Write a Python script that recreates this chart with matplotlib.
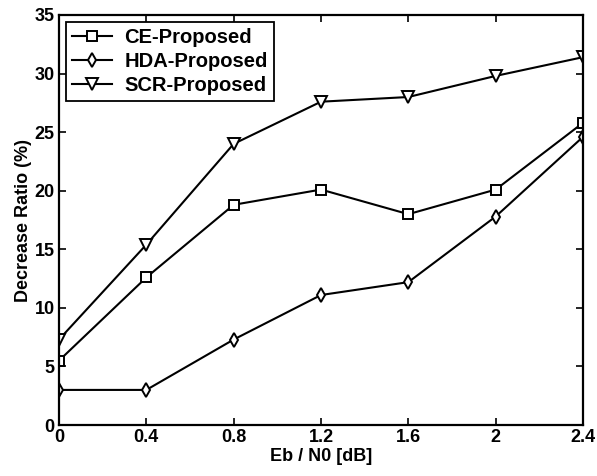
import matplotlib
matplotlib.use("Agg")
import matplotlib.pyplot as plt

x = [0, 0.4, 0.8, 1.2, 1.6, 2.0, 2.4]
ce = [5.5, 12.6, 18.8, 20.1, 18.0, 20.1, 25.8]
hda = [3.0, 3.0, 7.3, 11.1, 12.2, 17.8, 24.6]
scr = [7.3, 15.4, 24.0, 27.6, 28.0, 29.8, 31.4]
xticks = [0, 0.4, 0.8, 1.2, 1.6, 2, 2.4]
xticklabels = ["0", "0.4", "0.8", "1.2", "1.6", "2", "2.4"]
yticks = [0, 5, 10, 15, 20, 25, 30, 35]

plt.rcParams['font.family'] = ['Liberation Sans', 'DejaVu Sans']
plt.rcParams['font.weight'] = 'bold'

fig = plt.figure(figsize=(5.97, 4.76), dpi=100)
ax = fig.add_axes([0.0988, 0.107, 0.8778, 0.8615])

kw = dict(color='black', lw=1.5, markerfacecolor='white', markeredgecolor='black', markeredgewidth=1.4)
ax.plot(x, ce, marker='s', ms=7.8, label='CE-Proposed', **kw)
ax.plot(x, hda, marker='d', ms=7.5, label='HDA-Proposed', **kw)
ax.plot(x, scr, marker='v', ms=9, label='SCR-Proposed', **kw)

ax.set_xlim(0, 2.4)
ax.set_ylim(0, 35)
ax.set_xticks(xticks)
ax.set_xticklabels(xticklabels)
ax.set_yticks(yticks)
ax.tick_params(direction='in', top=True, right=True, labelsize=13, length=5, width=1.2, pad=3)
for lab in ax.get_xticklabels() + ax.get_yticklabels():
    lab.set_fontweight('bold')
for s in ax.spines.values():
    s.set_linewidth(1.6)

ax.set_xlabel('Eb / N0 [dB]', fontsize=13, fontweight='bold', labelpad=1)
ax.set_ylabel('Decrease Ratio (%)', fontsize=13, fontweight='bold', labelpad=2)

leg = ax.legend(loc='upper left', fontsize=14.5, fancybox=False, edgecolor='black',
                framealpha=1, handlelength=2.0, borderaxespad=0.35, labelspacing=0.25,
                borderpad=0.3, handletextpad=0.6)
leg.get_frame().set_linewidth(1.3)
for t in leg.get_texts():
    t.set_fontweight('bold')

fig.savefig('out.png', dpi=100)
